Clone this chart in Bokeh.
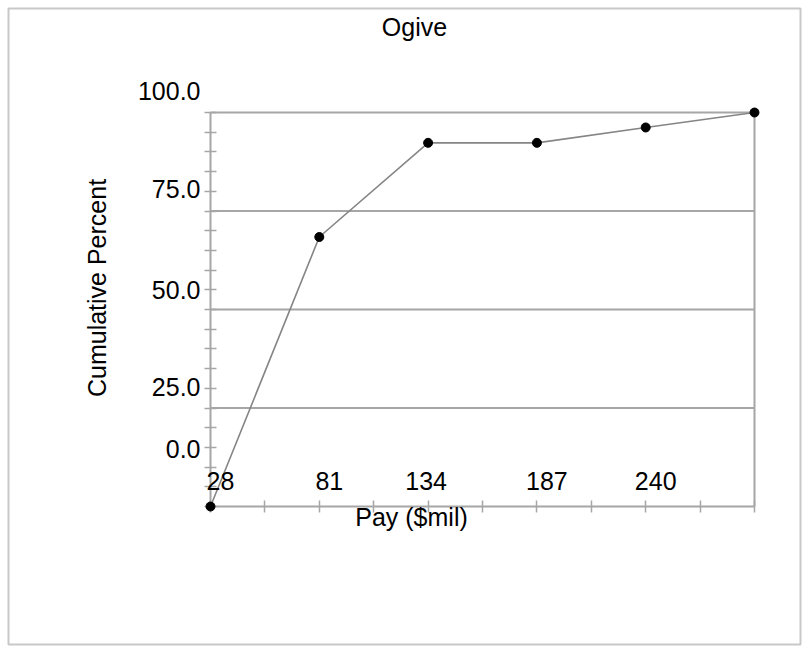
import math
from bokeh.plotting import figure
from bokeh.models import Range1d, LinearAxis, FixedTicker, Label, CustomJSTickFormatter
from bokeh.embed import file_html
from bokeh.resources import INLINE

# ---- data ----
pay = [28, 81, 134, 187, 240, 293]
cum_pct = [0, 68.4, 92.3, 92.3, 96.2, 100]
x_tick_values = [28, 54.5, 81, 107.5, 134, 160.5, 187, 213.5, 240, 266.5, 293]
x_label_values = [28, 81, 134, 187, 240]
x_label_texts = ["28", "81", "134", "187", "240"]
y_tick_values = [0, 5, 10, 15, 20, 25, 30, 35, 40, 45, 50, 55, 60, 65, 70, 75, 80, 85, 90, 95, 100]
y_label_values = [100, 75, 50, 25, 0]
y_label_texts = ["100.0", "75.0", "50.0", "25.0", "0.0"]
grid_values = [25, 50, 75, 100]
title_text = "Ogive"
x_title = "Pay ($mil)"
y_title = "Cumulative  Percent"

# ---- layout / style ----
FONT = "Liberation Sans"
FS = "25px"
GRAY = "#a6a6a6"
W, H = 808, 652
M = 8                      # frame inset = outer border position
FW, FH = W - 2 * M, H - 2 * M
# data box inside the frame (px from frame left / top)
box_l, box_r, box_t, box_b = 202, 746, 104, 498
xmin, xmax = pay[0], pay[-1]
ymin, ymax = 0, 100
xs = (box_r - box_l) / (xmax - xmin)
ys = (box_b - box_t) / (ymax - ymin)

p = figure(width=W, height=H, output_backend="svg", toolbar_location=None,
           x_axis_type=None, y_axis_type=None, title=None,
           x_range=Range1d(xmin - box_l / xs, xmax + (FW - box_r) / xs),
           y_range=Range1d(ymin - (FH - box_b) / ys, ymax + box_t / ys),
           min_border_left=M, min_border_right=M, min_border_top=M, min_border_bottom=M)
p.outline_line_color = "#c8c8c8"
p.outline_line_width = 2
p.background_fill_color = "white"
p.border_fill_color = "white"

def style_axis(ax, tick_len):
    ax.axis_line_color = GRAY
    ax.axis_line_width = 2
    ax.major_tick_line_color = GRAY
    ax.major_tick_line_width = 1.5
    ax.major_tick_in = tick_len
    ax.major_tick_out = tick_len
    ax.minor_tick_line_color = None
    ax.major_label_standoff = 0
    ax.formatter = CustomJSTickFormatter(code="return ''")
    ax.major_label_text_font_size = "0px"

# horizontal grid lines, limited to the data box
n = len(grid_values)
p.segment(x0=[xmin] * n, x1=[xmax] * n, y0=grid_values, y1=grid_values,
          line_color=GRAY, line_width=2)

xaxis = LinearAxis(fixed_location=ymin, ticker=FixedTicker(ticks=x_tick_values), bounds=(xmin, xmax))
style_axis(xaxis, 6)
p.add_layout(xaxis, "below")

yaxis = LinearAxis(fixed_location=xmin, ticker=FixedTicker(ticks=y_tick_values), bounds=(ymin, ymax))
style_axis(yaxis, 6)
p.add_layout(yaxis, "left")

raxis = LinearAxis(fixed_location=xmax, ticker=FixedTicker(ticks=[]), bounds=(ymin, ymax))
style_axis(raxis, 0)
p.add_layout(raxis, "right")

p.line(pay, cum_pct, line_color="#858585", line_width=1.6)
pts = p.scatter(pay, cum_pct, marker="circle", size=9, color="black")
pts.level = "overlay"

def txt(**kw):
    return Label(text_font=FONT, text_font_size=FS, text_color="black",
                 text_baseline="middle", **kw)

# y tick labels (drawn offset as in the reference)
y_label_dy = [21.5, 22.5, 19.5, 21.5, 57.5]
for v, t, dy in zip(y_label_values, y_label_texts, y_label_dy):
    p.add_layout(txt(x=xmin, y=v, text=t, x_offset=-10, y_offset=dy, text_align="right"))

# x tick labels (above the axis line)
x_label_dx = [10, 10, -2, 10, 10]
for v, t, dx in zip(x_label_values, x_label_texts, x_label_dx):
    p.add_layout(txt(x=v, y=ymin, text=t, x_offset=dx, y_offset=26, text_align="center"))

# titles (screen units: from frame left / frame bottom)
def page_to_screen(px, py):
    return px - M, (H - M) - py

tx, ty = page_to_screen(414, 26)
p.add_layout(txt(x=tx, y=ty, x_units="screen", y_units="screen", text=title_text, text_align="center"))
tx, ty = page_to_screen(411, 516)
p.add_layout(txt(x=tx, y=ty, x_units="screen", y_units="screen", text=x_title, text_align="center"))
tx, ty = page_to_screen(96, 284)
p.add_layout(txt(x=tx, y=ty, x_units="screen", y_units="screen", text=y_title,
                 angle=math.pi / 2, text_align="center"))

open("out.html", "w").write(file_html(p, INLINE))
